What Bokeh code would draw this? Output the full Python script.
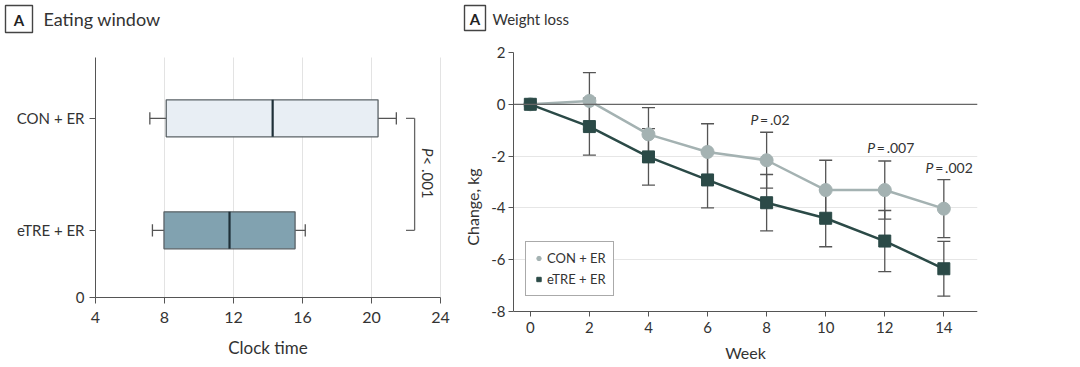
import math
from bokeh.plotting import figure
from bokeh.layouts import row
from bokeh.models import (Range1d, FixedTicker, Span, Legend, LegendItem,
                          ColumnDataSource)
from bokeh.core.properties import value
from bokeh.embed import file_html
from bokeh.resources import INLINE

FONT = "Lato"

# ---------------- Panel A: Eating window (box plot) ----------------
groups = ["eTRE + ER", "CON + ER"]
group_pos = [0.6, 1.6]
whisker_low = [7.3, 7.15]
q1 = [7.97, 8.1]
median = [11.77, 14.27]
q3 = [15.57, 20.38]
whisker_high = [16.16, 21.44]
box_colors = ["#81a2b0", "#e8eef4"]
clock_ticks = [4, 8, 12, 16, 20, 24]
clock_label = "Clock time"
p_box_text = ["P", " < .001"]

# ---------------- Panel A: Weight loss (line chart) ----------------
weeks = [0, 2, 4, 6, 8, 10, 12, 14]
con_mean = [0.0, 0.13, -1.16, -1.84, -2.16, -3.31, -3.31, -4.03]
con_err = [0.0, 1.09, 1.03, 1.09, 1.08, 1.15, 1.12, 1.12]
etre_mean = [0.0, -0.86, -2.03, -2.92, -3.80, -4.40, -5.28, -6.35]
etre_err = [0.0, 1.10, 1.09, 1.08, 1.09, 1.10, 1.18, 1.06]
week_ticks = [0, 2, 4, 6, 8, 10, 12, 14]
week_label = "Week"
kg_ticks = [-8, -6, -4, -2, 0, 2]
p_labels = [".02", ".007", ".002"]
p_label_x = [7.72, 11.67, 13.65]
p_label_y = [-0.57, -1.65, -2.43]

titles = ["Eating window", "Weight loss"]
panel_letter = "A"

TXT = "#333333"
AX = "#555555"
TOTAL_W = 1070
LEFT_W = 460
HEAD_H = 34
ROW_H = 333
BOTTOM = 6                    # small bottom border: labels are drawn inside the frame
FRAME_TOP = 52                # page y of frame top
FRAME_BOT = HEAD_H + ROW_H - BOTTOM   # page y of frame bottom

# ---------- header (panel titles) ----------
hd = figure(width=TOTAL_W, height=HEAD_H, output_backend="svg", toolbar_location=None,
            x_range=Range1d(0, TOTAL_W), y_range=Range1d(HEAD_H, 0), min_border=0)
hd.axis.visible = False
hd.grid.visible = False
hd.outline_line_color = None
hd.rect(x=[18.5, 474.5], y=[18.5, 17.5], width=[27, 21], height=[27, 25],
        fill_color="white", line_color="#444444", line_width=1.4)
hd.text(x=[18.5, 474.5], y=[19, 18], text=[panel_letter, panel_letter],
        text_align="center", text_baseline="middle", text_font=value(FONT),
        text_font_size="15px", text_font_style="bold", text_color="#222222")
hd.text(x=[43, 492], y=[18, 18], text=titles, text_align="left",
        text_baseline="middle", text_font=value(FONT),
        text_font_size=["18px", "15px"], text_color="#333333")


def style_axis(ax, show_labels=True):
    ax.axis_line_color = AX
    ax.major_tick_line_color = AX
    ax.minor_tick_line_color = None
    ax.major_tick_in = 0
    ax.major_tick_out = 5
    ax.major_label_text_font = FONT
    ax.major_label_text_color = TXT
    ax.major_label_text_font_size = "15px"
    if not show_labels:
        ax.major_label_text_font_size = "0px"
        ax.major_label_text_color = None
        ax.major_label_standoff = 0
    ax.axis_label_text_font = FONT
    ax.axis_label_text_font_size = "16px"
    ax.axis_label_text_font_style = "normal"
    ax.axis_label_text_color = TXT


# ---------- left figure (everything drawn inside its frame) ----------
SX1 = 17.25                     # px per clock hour; x=4 at page 95
X4 = 95
SY1 = 112.0                     # px per unit on the category axis; y=0 at page 297
Y0_1 = 297
FL1 = 8                         # frame left (page x)
y_axis_top = (Y0_1 - 57) / SY1
p1 = figure(width=LEFT_W, height=ROW_H, output_backend="svg", toolbar_location=None,
            x_range=Range1d(4 - (X4 - FL1) / SX1, 4 + (LEFT_W - X4) / SX1),
            y_range=Range1d(-(FRAME_BOT - Y0_1) / SY1, (Y0_1 - FRAME_TOP) / SY1),
            min_border_left=FL1, min_border_right=0, min_border_top=FRAME_TOP - HEAD_H,
            min_border_bottom=BOTTOM)
p1.outline_line_color = None
p1.grid.visible = False
style_axis(p1.xaxis[0], show_labels=False)
style_axis(p1.yaxis[0], show_labels=False)
p1.xaxis.ticker = FixedTicker(ticks=clock_ticks)
p1.xaxis.fixed_location = 0
p1.xaxis.bounds = (clock_ticks[0], clock_ticks[-1])
p1.xaxis.major_tick_out = 6
p1.yaxis.ticker = FixedTicker(ticks=[0] + group_pos)
p1.yaxis.fixed_location = clock_ticks[0]
p1.yaxis.bounds = (0, y_axis_top)
p1.yaxis.major_tick_out = 6

# tick labels and axis title as text inside the frame
p1.text(x=clock_ticks, y=[-20 / SY1] * len(clock_ticks), text=[str(t) for t in clock_ticks],
        text_align="center", text_baseline="middle", text_font=value(FONT),
        text_font_size="16px", text_color=TXT)
p1.text(x=[(clock_ticks[0] + clock_ticks[-1]) / 2], y=[-50 / SY1], text=[clock_label],
        text_align="center", text_baseline="middle", text_font=value(FONT),
        text_font_size="17px", text_color=TXT)
p1.text(x=[clock_ticks[0] - 11 / SX1] * 3, y=[0] + group_pos, text=["0"] + groups,
        text_align="right", text_baseline="middle", text_font=value(FONT),
        text_font_size="15px", text_color=TXT)

# vertical grid lines (only above the axis)
gx = clock_ticks[1:]
p1.segment(x0=gx, y0=[0] * len(gx), x1=gx, y1=[y_axis_top] * len(gx),
           line_color="#e3e3e3", line_width=1)

bh = 0.33
src = ColumnDataSource(dict(y=group_pos, lo=whisker_low, q1=q1, med=median, q3=q3,
                            hi=whisker_high, color=box_colors,
                            y0=[v - bh / 2 for v in group_pos],
                            y1=[v + bh / 2 for v in group_pos],
                            c0=[v - 0.055 for v in group_pos],
                            c1=[v + 0.055 for v in group_pos]))
p1.segment(x0="lo", y0="y", x1="q1", y1="y", source=src, line_color=AX, line_width=1.3)
p1.segment(x0="q3", y0="y", x1="hi", y1="y", source=src, line_color=AX, line_width=1.3)
p1.segment(x0="lo", y0="c0", x1="lo", y1="c1", source=src, line_color=AX, line_width=1.3)
p1.segment(x0="hi", y0="c0", x1="hi", y1="c1", source=src, line_color=AX, line_width=1.3)
p1.hbar(y="y", left="q1", right="q3", height=bh, source=src, fill_color="color",
        line_color="#5a6266", line_width=1.3)
p1.segment(x0="med", y0="y0", x1="med", y1="y1", source=src, line_color="#1f3038",
           line_width=2.2)

# significance bracket
bx = 22.5
p1.segment(x0=[bx, 22.0, 22.0], y0=[group_pos[0], group_pos[1], group_pos[0]],
           x1=[bx, bx, bx], y1=[group_pos[1], group_pos[1], group_pos[0]],
           line_color="#666666", line_width=1.3)
ytxt = 1.26
p1.text(x=[23.3], y=[ytxt], text=[p_box_text[0]], angle=-math.pi / 2,
        text_align="right", text_baseline="middle", text_font=value(FONT),
        text_font_size="15px", text_font_style="italic", text_color=TXT)
p1.text(x=[23.3], y=[ytxt], text=[p_box_text[1]], angle=-math.pi / 2,
        text_align="left", text_baseline="middle", text_font=value(FONT),
        text_font_size="15px", text_color=TXT)

# ---------- right figure ----------
S2 = 25.9                       # px per kg; y=-8 at page 311
Y8 = 311
p2 = figure(width=TOTAL_W - LEFT_W, height=ROW_H, output_backend="svg",
            toolbar_location=None,
            x_range=Range1d(-0.57, 15.14),
            y_range=Range1d(-8 - (FRAME_BOT - Y8) / S2, -8 + (Y8 - FRAME_TOP) / S2),
            min_border_left=51, min_border_right=TOTAL_W - LEFT_W - 517,
            min_border_top=FRAME_TOP - HEAD_H, min_border_bottom=BOTTOM)
p2.outline_line_color = None
p2.xgrid.visible = False
p2.ygrid.grid_line_color = "#e6e6e6"
style_axis(p2.xaxis[0], show_labels=False)
style_axis(p2.yaxis[0], show_labels=True)
p2.xaxis.ticker = FixedTicker(ticks=week_ticks)
p2.xaxis.fixed_location = -8
p2.yaxis.ticker = FixedTicker(ticks=kg_ticks)
p2.yaxis.bounds = (-8, 2)
p2.yaxis.major_label_overrides = {t: str(t) for t in kg_ticks}
p2.yaxis.axis_label = "Change, kg"
p2.yaxis.major_label_standoff = 3
p2.yaxis.axis_label_standoff = 6
p2.add_layout(Span(location=0, dimension="width", line_color="#666666", line_width=1.2))

p2.text(x=week_ticks, y=[-8 - 16 / S2] * len(week_ticks), text=[str(t) for t in week_ticks],
        text_align="center", text_baseline="middle", text_font=value(FONT),
        text_font_size="15px", text_color=TXT)
p2.text(x=[(-0.57 + 15.14) / 2], y=[-8 - 41 / S2], text=[week_label], text_align="center",
        text_baseline="middle", text_font=value(FONT), text_font_size="16px",
        text_color=TXT)

ERR = "#555555"
for mean, err in ((con_mean, con_err), (etre_mean, etre_err)):
    s = ColumnDataSource(dict(x=weeks, lo=[m - e for m, e in zip(mean, err)],
                              hi=[m + e for m, e in zip(mean, err)]))
    p2.segment(x0="x", y0="lo", x1="x", y1="hi", source=s, line_color=ERR, line_width=1.3)
    p2.scatter(x="x", y="lo", source=s, marker="dash", size=13, line_color=ERR, line_width=1.3)
    p2.scatter(x="x", y="hi", source=s, marker="dash", size=13, line_color=ERR, line_width=1.3)

CON_C = "#a4b2b2"
ETRE_C = "#2b4a47"
p2.line(weeks, con_mean, line_color=CON_C, line_width=2.5)
r_con = p2.scatter(weeks, con_mean, marker="circle", size=13, fill_color=CON_C,
                   line_color=CON_C)
p2.line(weeks, etre_mean, line_color=ETRE_C, line_width=2.5)
r_etre = p2.scatter(weeks, etre_mean, marker="square", size=12, fill_color=ETRE_C,
                    line_color=ETRE_C)

for lx, ly, lt in zip(p_label_x, p_label_y, p_labels):
    p2.text(x=[lx], y=[ly], text=["P"], text_align="right", text_baseline="middle",
            text_font=value(FONT), text_font_size="14px", text_font_style="italic",
            text_color=TXT)
    p2.text(x=[lx], y=[ly], text=["\u2009=\u2009" + lt], text_align="left",
            text_baseline="middle", text_font=value(FONT), text_font_size="14px",
            text_color=TXT)

legend = Legend(items=[LegendItem(label="CON + ER", renderers=[r_con]),
                       LegendItem(label="eTRE + ER", renderers=[r_etre])],
                location=(12, FRAME_BOT - 296), border_line_color="#555555",
                border_line_width=1.3,
                label_text_font=FONT, label_text_font_size="13px",
                label_text_color=TXT, padding=7, spacing=3, margin=0,
                glyph_width=11, glyph_height=14, label_standoff=3,
                label_height=18)
p2.add_layout(legend)

layout = row(p1, p2)
open("out.html", "w").write(file_html([hd, layout], INLINE))
